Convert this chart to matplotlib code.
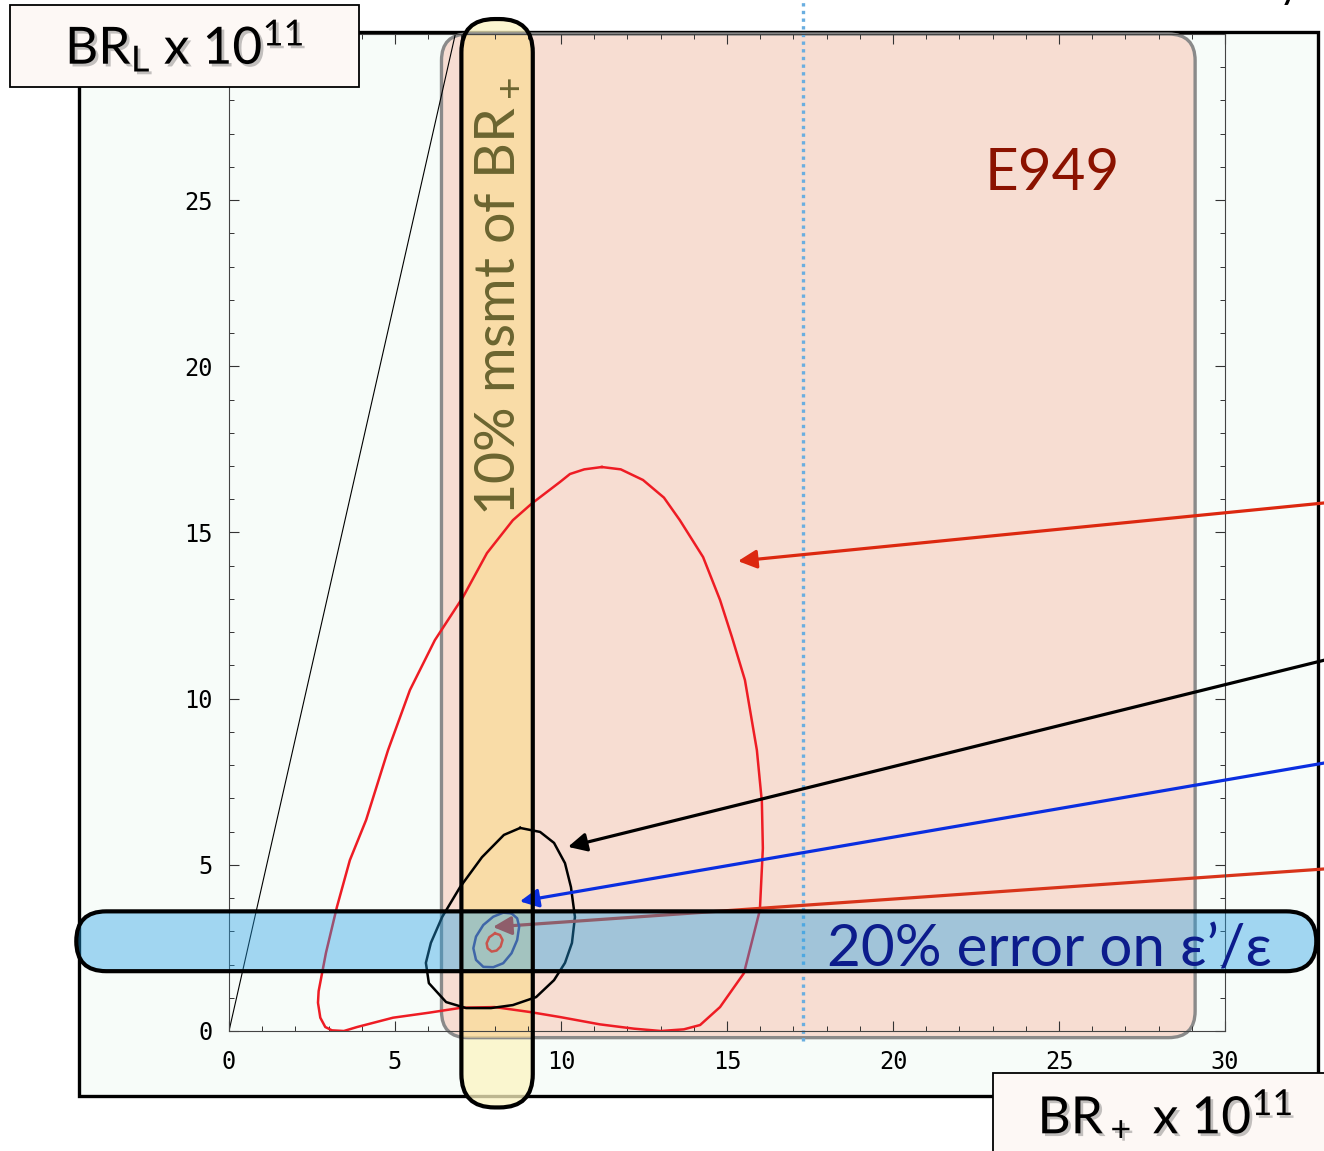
import matplotlib.pyplot as plt
import matplotlib.patches as mpatches
import matplotlib.patheffects as pe
from matplotlib.ticker import MultipleLocator

plt.rcParams['mathtext.default'] = 'regular'

# ---- data, all in units of 1e-11 ----
# big red contour (BR+, BR_L)
red_x = [11.23, 10.70, 10.27, 9.97, 9.13, 8.55, 7.77, 7.05, 6.20, 5.45, 4.79, 4.13, 3.64,
         3.25, 2.92, 2.70, 2.68, 2.75, 2.90, 3.10, 3.46, 3.86, 4.94, 6.02, 7.00,
         8.00, 9.07, 9.97, 11.17, 12.20, 13.01, 13.70, 14.19, 14.79, 15.51, 15.99,
         16.08, 16.05, 15.90, 15.54, 15.15, 14.79, 14.28, 13.58, 13.10, 12.47, 11.80, 11.23]
red_y = [16.97, 16.90, 16.76, 16.52, 15.88, 15.37, 14.38, 13.06, 11.76, 10.26, 8.45, 6.35, 5.14,
         3.73, 2.35, 1.20, 0.85, 0.40, 0.12, 0.02, 0.00, 0.12, 0.40, 0.55, 0.70,
         0.72, 0.57, 0.42, 0.20, 0.07, 0.00, 0.05, 0.18, 0.72, 1.74, 3.64,
         5.50, 6.90, 8.45, 10.56, 11.85, 12.97, 14.26, 15.37, 16.05, 16.58, 16.90, 16.97]

# black contour
blk_x = [8.77, 8.28, 7.62, 6.96, 6.42, 6.08, 5.93, 6.02, 6.54, 7.14, 7.89, 8.55, 9.25,
         9.79, 10.12, 10.33, 10.42, 10.30, 10.12, 9.79, 9.37, 8.77]
blk_y = [6.11, 5.90, 5.23, 4.33, 3.43, 2.65, 2.05, 1.44, 0.87, 0.69, 0.69, 0.78, 1.02,
         1.53, 2.05, 2.65, 3.43, 4.33, 5.05, 5.66, 5.99, 6.11]

# small blue contour
blu_x = [8.51, 8.68, 8.74, 8.68, 8.51, 8.26, 7.96, 7.66, 7.44, 7.36, 7.44, 7.66, 7.96,
         8.26, 8.51]
blu_y = [3.54, 3.39, 3.14, 2.74, 2.34, 2.04, 1.92, 1.93, 2.14, 2.49, 2.84, 3.19, 3.44,
         3.56, 3.54]

# innermost red contour
inr_x = [8.01, 8.16, 8.24, 8.18, 8.06, 7.91, 7.79, 7.76, 7.84, 8.01]
inr_y = [2.94, 2.89, 2.74, 2.54, 2.42, 2.39, 2.49, 2.64, 2.82, 2.94]

gn_slope = 4.4          # Grossman-Nir bound BR_L < 4.4 BR+
e949_central = 17.3
e949_x = [6.4, 29.1]
e949_y = [-0.2, 30.0]
kp_band_x = [7.0, 9.15]     # 10% measurement of BR+
kp_band_y = [-2.3, 30.45]
eps_band_x = [-4.6, 32.75]  # 20% error on eps'/eps
eps_band_y = [1.8, 3.6]

# arrows pointing at the contours: (tail, head)
arrows = [((33.2, 15.91), (15.33, 14.14), '#dc2810'),
          ((33.2, 11.21), (10.21, 5.54), 'black'),
          ((33.2, 8.10), (8.76, 3.90), '#0a2ee0')]
arrow_low = ((33.2, 4.89), (7.95, 3.13), '#d8341a')

mint = '#f7fcf9'
lato = ['Lato', 'DejaVu Sans']

fig = plt.figure(figsize=(13.24, 11.51), dpi=100)

# outer slide frame
frame = mpatches.Rectangle((0.0597, 0.0478), 0.9358, 0.9244, transform=fig.transFigure,
                           fc=mint, ec='black', lw=2.4, zorder=-1)
fig.add_artist(frame)

ax = fig.add_axes([0.17296, 0.10426, 0.75227, 0.8662])
ax.set_facecolor(mint)
ax.set_xlim(0, 30)
ax.set_ylim(0, 30)
ax.xaxis.set_major_locator(MultipleLocator(5))
ax.set_yticks([0, 5, 10, 15, 20, 25])   # the 30 label sits under the BR_L box
ax.xaxis.set_minor_locator(MultipleLocator(1))
ax.yaxis.set_minor_locator(MultipleLocator(1))
ax.tick_params(which='both', direction='in', top=True, right=True, color='#333',
               labelsize=17, labelfontfamily='DejaVu Sans Mono')
ax.tick_params(which='major', length=7, width=0.8)
ax.tick_params(which='minor', length=3.5, width=0.7)
ax.tick_params(axis='x', pad=14)
ax.tick_params(axis='y', pad=12)
for s in ax.spines.values():
    s.set_color('#444')
    s.set_linewidth(0.8)

def rbox(xr, yr, r, **kw):
    return mpatches.FancyBboxPatch((xr[0], yr[0]), xr[1] - xr[0], yr[1] - yr[0],
                                   boxstyle='round,pad=0,rounding_size=%g' % r,
                                   clip_on=False, **kw)

# yellow band, light part (shows outside E949 box)
ax.add_patch(rbox(kp_band_x, kp_band_y, 1.0, fc='#fcf4c2', alpha=0.75,
                  ec='none', zorder=0.3))

# E949 region
e949 = ax.add_patch(rbox(e949_x, e949_y, 0.8, fc='#f7ddd2', ec='#8a8a8a', lw=2.4,
                         zorder=0.5))

# yellow band over the E949 box
yb2 = rbox(kp_band_x, kp_band_y, 1.0, fc='#fadc99', alpha=0.75, ec='none', zorder=0.6)
ax.add_patch(yb2)
yb2.set_clip_on(True)
yb2.set_clip_path(e949)
yb2.set_clip_box(None)

# Grossman-Nir line and E949 central value
ax.plot([0, 30 / gn_slope], [0, 30], color='black', lw=0.8, zorder=2)
ax.plot([e949_central, e949_central], [-0.3, 31.1], color='#6aaee0', lw=2.4,
        ls=(0, (1, 1.3)), clip_on=False, zorder=2)

# contours
ax.plot(red_x, red_y, color='#ee1c24', lw=1.8, zorder=2)
ax.plot(blk_x, blk_y, color='black', lw=1.8, zorder=2)

ax.annotate('', xy=arrow_low[1], xytext=arrow_low[0], annotation_clip=False, zorder=2.2,
            arrowprops=dict(arrowstyle='-|>', color=arrow_low[2], lw=2.3,
                            mutation_scale=28, shrinkA=0, shrinkB=0))

# eps'/eps band fill
ax.add_patch(rbox(eps_band_x, eps_band_y, 0.9, fc='#229fe5', alpha=0.4, ec='none',
                  zorder=3))

ax.plot(blu_x, blu_y, color='#3f66a8', lw=1.8, zorder=3.2)
ax.plot(inr_x, inr_y, color='#c8554d', lw=1.8, zorder=3.2)

for tail, head, c in arrows:
    ax.annotate('', xy=head, xytext=tail, annotation_clip=False, zorder=4,
                arrowprops=dict(arrowstyle='-|>', color=c, lw=2.3,
                                mutation_scale=28, shrinkA=0, shrinkB=0))

# band outlines
ax.add_patch(rbox(kp_band_x, kp_band_y, 1.0, fill=False, ec='black', lw=3, zorder=4.5))
ax.add_patch(rbox(eps_band_x, eps_band_y, 0.9, fill=False, ec='black', lw=3, zorder=4.5))

# labels inside the plot
ax.text(24.79, 25.3, 'E949', color='#8b1200', fontsize=42, family=lato,
        ha='center', va='baseline', zorder=5)
ax.text(8.07, 22.1, '10% msmt of BR$_+$', color='#6b6530', fontsize=40, family=lato,
        rotation=90, ha='center', va='center', zorder=5)
ax.text(31.42, 1.93, '20% error on ε’/ε', color='#0c1c8c', fontsize=42, family=lato,
        ha='right', va='baseline', zorder=5)

# axis label boxes
shadow = [pe.SimplePatchShadow(offset=(2, -2), shadow_rgbFace='#555', alpha=0.35),
          pe.Normal()]
fig.add_artist(mpatches.Rectangle((0.00755, 0.9244), 0.2636, 0.0712,
                                  transform=fig.transFigure, fc='#fdf8f5', ec='black',
                                  lw=1.3, zorder=5))
fig.text(0.1393, 0.96, 'BR$_L$ x 10$^{11}$', fontsize=37, family=lato, ha='center',
         va='center', zorder=6, path_effects=shadow)
fig.add_artist(mpatches.Rectangle((0.75, -0.01), 0.26, 0.0778,
                                  transform=fig.transFigure, fc='#fdf8f5', ec='black',
                                  lw=1.3, zorder=5))
fig.text(0.88, 0.0295, 'BR$_+$ x 10$^{11}$', fontsize=37, family=lato, ha='center',
         va='center', zorder=6, path_effects=shadow)

# cut-off title glyph at the top edge
fig.text(0.974, 1.0 + 2 / 1151, 'y', fontsize=30, family=lato, ha='center',
         va='baseline')

fig.savefig('out.png', dpi=100)
